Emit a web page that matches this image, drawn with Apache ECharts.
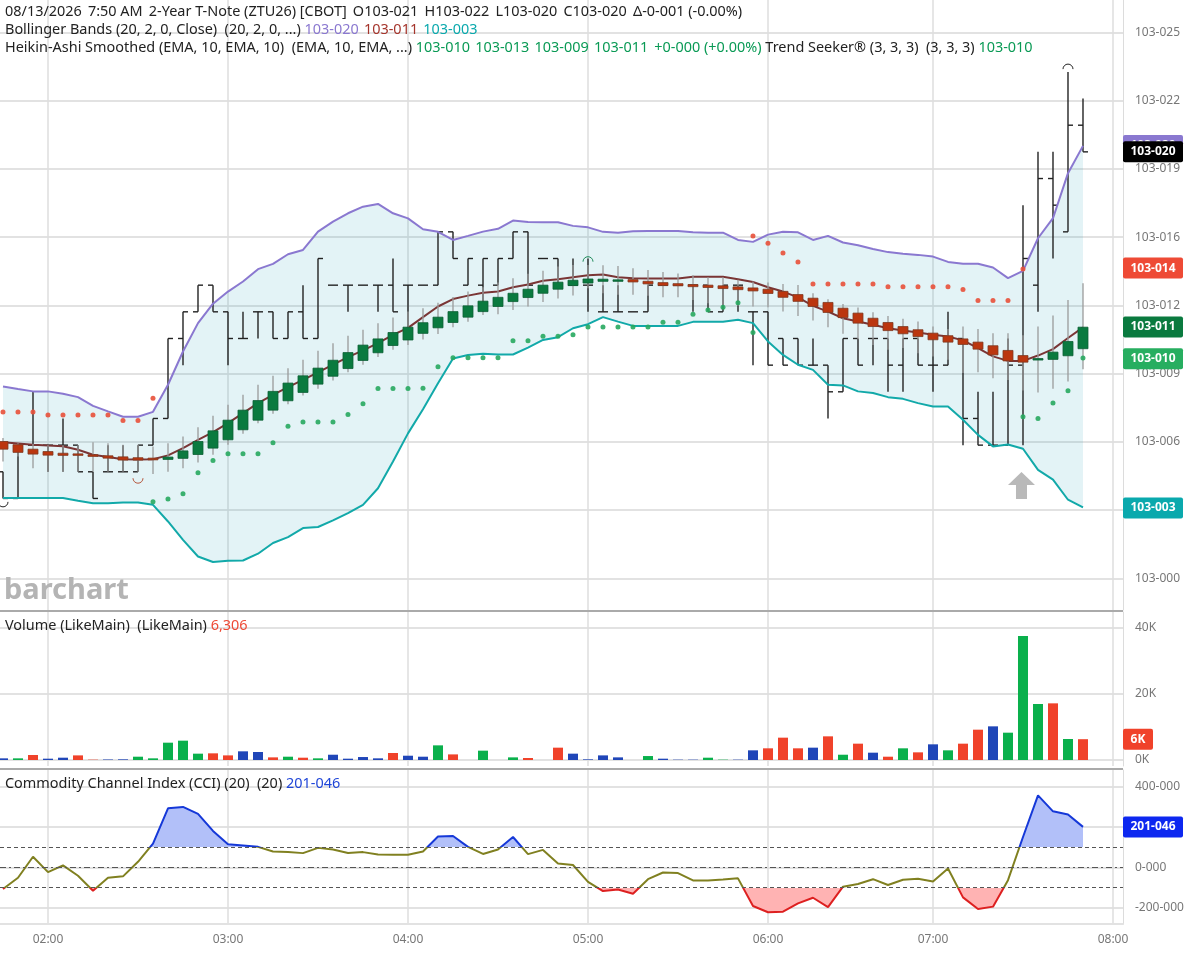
<!DOCTYPE html>
<html>
<head>
<meta charset="utf-8">
<title>ZTU26</title>
<script src="https://cdn.jsdelivr.net/npm/echarts@6/dist/echarts.min.js"></script>
<style>
    html, body { margin: 0; padding: 0; background: #fff; }
    #chart { width: 1188px; height: 953px; }
</style>
</head>
<body>
<div id="chart"></div>
<script>
// prices are in 32nds above 103 (103-020 = 20)
const timeTicks = [3, 15, 27, 39, 51, 62, 74];
const timeLabels = ['02:00', '03:00', '04:00', '05:00', '06:00', '07:00', '08:00'];

const priceTicks = [0, 3.2, 6.4, 9.6, 12.8, 16, 19.2, 22.4, 25.6];
const priceLabels = ['103-000', '103-003', '103-006', '103-009', '103-012', '103-016', '103-019', '103-022', '103-025'];
const volumeTicks = [0, 20000, 40000];
const volumeLabels = ['0K', '20K', '40K'];
const cciTicks = [-200, 0, 200, 400];
const cciLabels = ['-200-000', '0-000', '200-000', '400-000'];
const cciLevels = [100, 0, -100];

const priceOpen = [5, 3.75, 6.25, 6.25, 6.25, 6.25, 5, 5, 5, 5, 6.25, 7.5, 11.25, 12.5, 13.75, 12.5, 11.25, 12.5, 12.5, 11.25, 12.5, 11.25, 13.75, 13.75, 13.75, 13.75, 13.75, 13.75, 13.75, 13.75, 16.25, 13.75, 13.75, 13.75, 15, 16.25, 15, 15, 13.75, 13.75, 12.5, 12.5, 12.5, 12.5, 13.75, 13.75, 13.75, 13.75, 12.5, 13.75, 12.5, 12.5, 11.25, 11.25, 10, 10, 8.75, 11.25, 11.25, 11.25, 10, 11.25, 10, 10, 11.25, 7.5, 6.25, 6.25, 10, 13.75, 18.75, 16.25, 21.25];
const priceHigh = [5, 6.25, 8.75, 6.25, 7.5, 6.25, 5, 6.25, 6.25, 6.25, 7.5, 11.25, 12.5, 13.75, 13.75, 12.5, 12.5, 12.5, 12.5, 12.5, 13.75, 15, 13.75, 13.75, 13.75, 13.75, 15, 13.75, 13.75, 16.25, 16.25, 15, 15, 15, 16.25, 16.25, 15, 15, 15, 15, 13.75, 13.75, 12.5, 13.75, 13.75, 13.75, 13.75, 13.75, 13.75, 13.75, 12.5, 12.5, 11.25, 11.25, 11.25, 10, 11.25, 11.25, 11.25, 11.25, 11.25, 11.25, 11.25, 12.5, 11.25, 8.75, 8.75, 11.25, 17.5, 20, 20, 23.75, 22.5];
const priceLow = [3.75, 3.75, 6.25, 5, 5, 5, 3.75, 5, 5, 5, 6.25, 7.5, 10, 12.5, 12.5, 10, 11.25, 11.25, 11.25, 11.25, 11.25, 11.25, 13.75, 12.5, 13.75, 12.5, 12.5, 11.25, 13.75, 13.75, 15, 13.75, 12.5, 13.75, 15, 13.75, 15, 13.75, 13.75, 12.5, 12.5, 12.5, 12.5, 12.5, 13.75, 13.75, 12.5, 12.5, 12.5, 12.5, 10, 10, 10, 10, 10, 7.5, 8.75, 10, 10, 8.75, 8.75, 10, 8.75, 10, 6.25, 6.25, 6.25, 6.25, 6.25, 12.5, 15, 16.25, 20];
const priceClose = [3.75, 6.25, 6.25, 6.25, 6.25, 5, 3.75, 5, 5, 6.25, 7.5, 11.25, 12.5, 13.75, 12.5, 11.25, 11.25, 12.5, 11.25, 12.5, 11.25, 15, 13.75, 13.75, 13.75, 13.75, 12.5, 13.75, 13.75, 16.25, 15, 15, 15, 15, 16.25, 13.75, 15, 13.75, 13.75, 13.75, 12.5, 12.5, 12.5, 13.75, 13.75, 13.75, 13.75, 12.5, 13.75, 13.75, 12.5, 10, 10, 10, 10, 8.75, 11.25, 10, 11.25, 10, 11.25, 10, 10, 11.25, 7.5, 6.25, 6.25, 10, 15, 18.75, 17.5, 21.25, 20];

const haOpen = [6.42, 6.27, 6.06, 5.95, 5.87, 5.84, 5.8, 5.75, 5.7, 5.66, 5.64,
    5.58, 5.63, 5.81, 6.11, 6.5, 6.97, 7.42, 7.89, 8.33, 8.72, 9.11, 9.48, 9.84, 10.22, 10.58, 10.92,
    11.18, 11.49, 11.75, 12, 12.25, 12.51, 12.75, 12.98, 13.17, 13.37, 13.56, 13.73, 13.85, 13.93, 13.96,
    14.01, 13.93, 13.87, 13.82, 13.78, 13.75, 13.72, 13.67, 13.62, 13.56, 13.46, 13.31,
    13.14, 12.94, 12.67, 12.44, 12.2, 12, 11.81, 11.66, 11.5, 11.38, 11.23, 11.08, 10.91, 10.69, 10.45,
    10.27, 10.27, 10.44, 10.77];
const haClose = [6.06, 5.91, 5.83, 5.78, 5.77, 5.77, 5.72, 5.64, 5.55, 5.55, 5.56,
    5.69, 5.98, 6.42, 6.92, 7.42, 7.89, 8.34, 8.77, 9.16, 9.5, 9.86, 10.23, 10.59, 10.94, 11.23, 11.53,
    11.78, 11.99, 12.25, 12.51, 12.78, 13, 13.18, 13.37, 13.56, 13.75, 13.89, 13.98, 14.04, 14.03, 14,
    13.9, 13.81, 13.73, 13.72, 13.68, 13.64, 13.59, 13.54, 13.48, 13.36, 13.18, 12.99,
    12.75, 12.47, 12.23, 11.97, 11.81, 11.62, 11.47, 11.34, 11.19, 11.08, 10.97, 10.75, 10.48, 10.2, 10.14,
    10.31, 10.61, 11.11, 11.78];
const haHigh = [6.58, 6.34, 6.3, 6.25, 6.25, 6.25, 6.39, 6.34, 6.27, 6.27, 6.19,
    6.34, 6.66, 7.09, 7.63, 8.14, 8.61, 9.08, 9.5, 9.86, 10.25, 10.67, 11.03, 11.38, 11.66, 11.97, 12.23,
    12.51, 12.67, 12.93, 13.2, 13.45, 13.65, 13.87, 14.07, 14.28, 14.43, 14.62, 14.7, 14.7, 14.68, 14.65,
    14.54, 14.46, 14.37, 14.3, 14.22, 14.12, 14.12, 14, 13.92, 13.87, 13.81, 13.76,
    13.37, 13.09, 12.87, 12.7, 12.48, 12.31, 12.17, 12.05, 11.81, 11.7, 11.81, 11.69, 11.5, 11.5, 11.4,
    11.81, 12.33, 13.06, 13.84];
const haLow = [5.48, 5.72, 5.17, 5, 5, 5, 5, 5, 5, 5, 4.9,
    5, 5.17, 5.44, 5.8, 6.27, 6.78, 7.28, 7.72, 8.17, 8.58, 8.89, 9.28, 9.67, 10.02, 10.38, 10.72,
    10.95, 11.2, 11.46, 11.78, 12.03, 12.35, 12.39, 12.59, 12.75, 12.96, 13.12, 13.26, 13.6, 13.37, 13.3,
    13.3, 13.25, 13.18, 13.18, 13.06, 12.9, 12.82, 12.78, 12.75, 12.71, 12.51, 12.31,
    12.09, 11.78, 11.47, 11.22, 10.95, 10.72, 10.8, 10.56, 10.41, 10.25, 9.63, 9.67, 9.38, 9.3, 8.81,
    8.72, 8.89, 9.23, 9.81];

const bbUpper = [9, 8.88, 8.77, 8.77, 8.66, 8.5, 8.09, 7.83, 7.58, 7.58, 7.81, 9.08, 10.64, 11.97, 12.88, 13.45,
    13.92, 14.5, 14.75, 15.2, 15.4, 16.26, 16.73, 17.12, 17.43, 17.56, 17.12,
    16.88, 16.37, 16.25, 15.87, 16.06, 16.26, 16.39, 16.78, 16.71, 16.7, 16.7, 16.53, 16.46, 16.25, 16.21, 16.28, 16.29, 16.29, 16.29, 16.23, 16.21, 16.21, 15.87, 15.78, 16.12, 16.25, 16.23,
    15.87, 16.06, 15.75, 15.62, 15.45, 15.3, 15.22, 15.17, 15.09, 14.84, 14.75, 14.75, 14.58, 14.08, 14.42, 15.95, 16.89, 19, 20.28];
const bbMiddle = [6.39, 6.33, 6.27, 6.23, 6.2, 6.03, 5.8, 5.69, 5.59, 5.58, 5.59, 5.77, 6.11, 6.5, 6.86, 7.28, 7.75, 8.22, 8.61, 8.97, 9.31, 9.66, 10.02, 10.38, 10.69, 11.03, 11.42,
    11.75, 12.25, 12.75, 13.1, 13.26, 13.39, 13.45, 13.65, 13.78, 13.96, 14.03, 14.12, 14.21, 14.25, 14.12, 14.07, 14.06, 14.06, 14.06, 14.14, 14.14, 14.14, 14.03, 13.9, 13.65, 13.45, 13.18,
    12.78, 12.51, 12.2, 12.05, 11.89, 11.73, 11.62, 11.53, 11.42, 11.34, 11.16, 10.8, 10.41, 10.2, 10.2, 10.45, 10.75, 11.27, 11.77];
const bbLower = [3.77, 3.77, 3.77, 3.77, 3.77, 3.64, 3.53, 3.53, 3.56, 3.56, 3.45, 2.67, 1.81, 1.03, 0.77, 0.83, 0.84, 1.16, 1.66, 1.94, 2.36, 2.41, 2.72, 3.06, 3.45, 4.23, 5.48,
    6.8, 7.93, 9.15, 10.31, 10.48, 10.53, 10.5, 10.5, 10.82, 11.18, 11.31, 11.73, 11.92, 12.25, 12.04, 11.84, 11.84, 11.84, 11.84, 12.03, 12.03, 12.03, 12.13, 11.97, 11.11, 10.48, 10.02,
    9.78, 9.08, 9.05, 8.77, 8.69, 8.5, 8.42, 8.22, 8.06, 8.06, 7.44, 6.73, 6.19, 6.28, 6.08, 5.09, 4.63, 3.69, 3.33];

const trendDown = [7.8, 7.8, 7.8, 7.66, 7.66, 7.66, 7.66, 7.66, 7.41, 7.41, 8.45,
    ...Array(39).fill(null),
    16.06, 15.72, 15.26, 14.84, 13.8, 13.8, 13.8, 13.8, 13.8, 13.67, 13.67, 13.67, 13.67, 13.67, 13.55, 13.03, 13.03, 13.03, 14.51,
    null, null, null, null];
const trendUp = [...Array(10).fill(null),
    3.59, 3.73, 3.97, 4.95, 5.53, 5.84, 5.84, 5.84, 6.36, 7.13, 7.34, 7.34, 7.34, 7.69, 8.19, 8.91, 8.91,
    8.9, 8.92, 9.92, 10.35, 10.35, 10.35, 10.35, 11.14, 11.14, 11.35, 11.35, 11.43, 11.79, 11.79, 11.79, 11.79, 11.79, 12.01, 12.01, 12.39, 12.59, 12.71, 12.93,
    11.53,
    ...Array(17).fill(null),
    7.58, 7.5, 8.23, 8.8, 10.33];

// index, price, 1 = high pivot / -1 = low pivot
const pivotMarks = [[0, 3.59, -1], [9, 4.7, -1], [39, 14.85, 1], [71, 23.88, 1]];
const pivotColors = ['#222', '#b5563c', '#1f8a5a', '#222'];
const arrowMark = [[68, 4.36]];

const volume = [505, 505, 1515, 400, 700, 1400, 100, 150, 200, 1000, 505, 5250, 5860, 1920, 2020, 1400, 2630, 2420, 800, 1000, 700, 505, 1600, 400, 900, 505, 2120, 1300, 1000, 4440, 1700, 0, 2830, 0, 800, 600, 0, 3740, 1920, 200, 1400, 800, 0, 1200, 400, 100, 100, 700, 100, 100, 2930, 3540, 6770, 3540, 3740, 7170, 1600, 4950, 2220, 1000, 3540, 2320, 4750, 2930, 4950, 9190, 10200, 8280, 37570, 16970, 17170, 6360, 6306];
const volumeTrend = ['b', 'g', 'r', 'b', 'b', 'r', 'r', 'b', 'b', 'g', 'g', 'g', 'g', 'g', 'r', 'r', 'b', 'b', 'r', 'g', 'r', 'g', 'b', 'b', 'b', 'b', 'r', 'b', 'b', 'g', 'r', 'b', 'g', 'b', 'g', 'r', 'b', 'r', 'b', 'b', 'b', 'b', 'b', 'g', 'b', 'b', 'b', 'g', 'g', 'b', 'b', 'r', 'r', 'r', 'b', 'r', 'g', 'r', 'b', 'r', 'g', 'r', 'b', 'g', 'r', 'r', 'b', 'g', 'g', 'g', 'r', 'g', 'r'];

const cci = [-107, -51, 53, -23, 10, -41, -115, -51, -44, 28, 118, 293, 300, 265, 181, 115, 109, 102, 79, 77, 71, 97, 89, 72, 76, 64, 63, 63, 79, 153, 156, 102, 67, 89, 151, 66, 87, 20, 12, -71, -117, -109, -130, -58, -25, -28, -64, -64, -60, -54, -191, -222, -219, -178, -150, -196, -95, -82, -58, -87, -61, -56, -69, -5, -148, -206, -194, -63, 151, 357, 278, 262, 201];

const priceTags = [
    [20.3, '103-020', '#8a78d0'],
    [14.55, '103-014', '#ee4a35'],
    [11.79, '103-011', '#0a7a3f'],
    [10.3, '103-010', '#27ae60'],
    [3.3, '103-003', '#0aa9ad'],
    [20, '103-020', '#000'],
];
const volumeTags = [[6306, '6K', '#f0422a', 30]];
const cciTags = [[201, '201-046', '#0d28f0']];

const C_TEXT = '#222';
const C_AXIS = '#777';
const C_GRID = '#e2e2e2';
const FONT = '"Noto Sans", sans-serif';
const VOL_COLOR = { g: '#0ab04c', r: '#f0422a', b: '#2046b8' };
const CLEAR = 'rgba(255,255,255,0)';

const bars = priceOpen.map((_, i) => i);
const asPoints = arr => bars.filter(i => arr[i] != null).map(i => [i, arr[i]]);

function priceBar(params, api) {
    const i = api.value(0);
    const left = api.coord([i, api.value(1)]);
    const right = api.coord([i, api.value(4)]);
    const hi = api.coord([i, api.value(2)]);
    const lo = api.coord([i, api.value(3)]);
    const style = { stroke: '#222', lineWidth: 1.4 };
    return {
        type: 'group',
        children: [
            { type: 'line', shape: { x1: hi[0], y1: hi[1], x2: lo[0], y2: lo[1] }, style },
            { type: 'line', shape: { x1: left[0] - 5, y1: left[1], x2: left[0], y2: left[1] }, style },
            { type: 'line', shape: { x1: right[0], y1: right[1], x2: right[0] + 5, y2: right[1] }, style },
        ],
    };
}

function haWick(params, api) {
    const hi = api.coord([api.value(0), api.value(1)]);
    const lo = api.coord([api.value(0), api.value(2)]);
    return { type: 'line', shape: { x1: hi[0], y1: hi[1], x2: lo[0], y2: lo[1] }, style: { stroke: '#9a9a9a', lineWidth: 1.3 } };
}

function haBody(params, api) {
    const o = api.value(1);
    const c = api.value(2);
    const top = api.coord([api.value(0), Math.max(o, c)]);
    const bot = api.coord([api.value(0), Math.min(o, c)]);
    const up = c >= o;
    return {
        type: 'rect',
        shape: { x: top[0] - 5, y: top[1], width: 10, height: Math.max(bot[1] - top[1], 1.5) },
        style: { fill: up ? '#0a7a3f' : '#bb360f', stroke: up ? '#0d5f35' : '#7f3a22', lineWidth: 0.8 },
    };
}

function pivotArc(params, api) {
    const p = api.coord([api.value(0), api.value(1)]);
    const high = api.value(2) > 0;
    return {
        type: 'arc',
        shape: { cx: p[0], cy: p[1], r: 5, startAngle: high ? Math.PI : 0, endAngle: high ? Math.PI * 2 : Math.PI },
        style: { fill: 'none', stroke: pivotColors[params.dataIndex], lineWidth: 1 },
    };
}

// Bollinger band fill, one polygon through the upper line and back along the lower
function bandFill(params, api) {
    const points = bars.map(i => api.coord([i, bbUpper[i]]))
        .concat(bars.slice().reverse().map(i => api.coord([i, bbLower[i]])));
    return { type: 'polygon', shape: { points }, style: { fill: 'rgba(0,150,175,0.11)' } };
}

function tagSeries(axis, rows) {
    return {
        type: 'custom', xAxisIndex: axis, yAxisIndex: axis, z: 20, silent: true,
        data: rows.map(r => [0, r[0]]), encode: { x: 0, y: 1 },
        // value tag in the right margin, placed from the axis scale
        renderItem(params, api) {
            const row = rows[params.dataIndex];
            const y = api.coord([0, api.value(1)])[1];
            const x = params.coordSys.x + params.coordSys.width;
            const w = row[3] || 60;
            return {
                type: 'group',
                children: [
                    { type: 'rect', shape: { x, y: y - 10.5, width: w, height: 21, r: 2 }, style: { fill: row[2] } },
                    { type: 'text', style: { x: x + w / 2, y, text: row[1], fill: '#fff', font: 'bold 12px ' + FONT, align: 'center', verticalAlign: 'middle' } },
                ],
            };
        },
    };
}

function lineSeries(name, arr, color, z) {
    return { name, type: 'line', data: asPoints(arr), showSymbol: false, z, lineStyle: { color, width: 2 }, itemStyle: { color } };
}

function trendDots(name, arr, color) {
    return {
        name, type: 'scatter', data: asPoints(arr), symbolSize: 5, z: 8,
        itemStyle: { color, opacity: 0.9 },
    };
}

function xAxis(gridIndex, last) {
    return {
        type: 'value', gridIndex, min: -0.2, max: 74.667, position: 'bottom',
        axisLine: { show: last, onZero: false, lineStyle: { color: C_GRID, width: 2 } },
        axisTick: { show: false, customValues: timeTicks },
        axisLabel: last ? {
            show: true, customValues: timeTicks, color: C_AXIS, fontSize: 12, fontFamily: FONT, margin: 10,
            formatter: v => timeLabels[timeTicks.indexOf(v)],
        } : { show: false },
        splitLine: { show: true, lineStyle: { color: '#dedede', width: 1.5 } },
    };
}

function yAxis(gridIndex, min, max, ticks, labels) {
    return {
        type: 'value', gridIndex, min, max, position: 'right',
        axisLine: { show: true, onZero: false, lineStyle: { color: '#dcdcdc', width: 1 } },
        axisTick: { show: false, customValues: ticks },
        axisLabel: {
            customValues: ticks, color: C_AXIS, fontSize: 12, fontFamily: FONT, margin: 12,
            formatter: v => labels[ticks.indexOf(v)],
        },
        splitLine: { show: true, lineStyle: { color: C_GRID, width: 2 } },
    };
}

const headerRich = {
    t: { fill: C_TEXT },
    bbU: { fill: '#8a78d0' }, bbM: { fill: '#a5352c' }, bbL: { fill: '#0aa9ad' },
    g: { fill: '#0a9a55' }, r: { fill: '#ee4a35' }, b: { fill: '#2046d8' },
};

function headerLine(x, y, text) {
    return {
        type: 'text', x, y, z: 30,
        style: { text, font: '14.45px ' + FONT, fill: C_TEXT, verticalAlign: 'middle', rich: headerRich },
    };
}

const chart = echarts.init(document.getElementById('chart'));
chart.setOption({
    animation: false,
    backgroundColor: '#fff',
    textStyle: { fontFamily: FONT },
    grid: [
        { left: 0, width: 1123, top: 0, height: 610 },
        { left: 0, width: 1123, top: 612, height: 154 },
        { left: 0, width: 1123, top: 770, height: 154 },
    ],
    xAxis: [xAxis(0, false), xAxis(1, false), xAxis(2, true)],
    yAxis: [
        yAxis(0, -1.48, 27.12, priceTicks, priceLabels),
        yAxis(1, -1818, 44850, volumeTicks, volumeLabels),
        yAxis(2, -280, 482.7, cciTicks, cciLabels),
    ],
    // the first three series are the CCI ones, see seriesIndex below
    visualMap: [
        { show: false, type: 'piecewise', seriesIndex: 0, dimension: 1, pieces: [{ lte: 100, color: CLEAR }, { gt: 100, lte: 1000, color: '#b2c0f9' }, { gt: 1000, color: '#b2c0f9' }] },
        { show: false, type: 'piecewise', seriesIndex: 1, dimension: 1, pieces: [{ lt: -1000, color: '#ffb3b3' }, { gte: -1000, lt: -100, color: '#ffb3b3' }, { gte: -100, color: CLEAR }] },
        { show: false, type: 'piecewise', seriesIndex: 2, dimension: 1, pieces: [{ lt: -100, color: '#dd2020' }, { gte: -100, lte: 100, color: '#808020' }, { gt: 100, color: '#1538d8' }] },
    ],
    series: [
        {
            name: 'CCI above', type: 'line', xAxisIndex: 2, yAxisIndex: 2, data: asPoints(cci), showSymbol: false, z: 2,
            lineStyle: { width: 0 }, areaStyle: { origin: 100, opacity: 1 },
        },
        {
            name: 'CCI below', type: 'line', xAxisIndex: 2, yAxisIndex: 2, data: asPoints(cci), showSymbol: false, z: 2,
            lineStyle: { width: 0 }, areaStyle: { origin: -100, opacity: 1 },
        },
        {
            name: 'CCI', type: 'line', xAxisIndex: 2, yAxisIndex: 2, data: asPoints(cci), showSymbol: false, z: 4,
            lineStyle: { width: 2 },
            markLine: {
                silent: true, symbol: 'none', label: { show: false }, animation: false,
                data: cciLevels.map(v => ({
                    yAxis: v,
                    lineStyle: { color: '#555', width: 1, type: v === 0 ? [6, 3, 2, 3] : [4, 3] },
                })),
            },
        },
        { name: 'band', type: 'custom', z: 1, silent: true, clip: true, renderItem: bandFill, data: [[0, 0]], encode: { x: 0, y: 1 } },
        {
            name: 'OHLC', type: 'custom', z: 3, renderItem: priceBar, encode: { x: 0, y: [1, 2, 3, 4] },
            data: bars.map(i => [i, priceOpen[i], priceHigh[i], priceLow[i], priceClose[i]]),
        },
        lineSeries('BB upper', bbUpper, '#8a78d0', 4),
        lineSeries('BB lower', bbLower, '#12a9a9', 4),
        lineSeries('BB middle', bbMiddle, '#7a3535', 5),
        {
            name: 'HA wick', type: 'custom', z: 6, renderItem: haWick, encode: { x: 0, y: [1, 2] },
            data: bars.map(i => [i, haHigh[i], haLow[i]]),
        },
        {
            name: 'HA body', type: 'custom', z: 7, renderItem: haBody, encode: { x: 0, y: [1, 2] },
            data: bars.map(i => [i, haOpen[i], haClose[i]]),
        },
        trendDots('Trend down', trendDown, '#e8503a'),
        trendDots('Trend up', trendUp, '#27a85f'),
        { name: 'pivots', type: 'custom', z: 9, renderItem: pivotArc, encode: { x: 0, y: 1 }, data: pivotMarks },
        {
            name: 'arrow', type: 'scatter', z: 9, data: arrowMark, symbolSize: 27, symbolOffset: [-1.5, 0],
            symbol: 'path://M13.5 0 L27 13 L19 13 L19 27 L8 27 L8 13 L0 13 Z', itemStyle: { color: '#a8a8a8' },
        },
        {
            name: 'Volume', type: 'bar', xAxisIndex: 1, yAxisIndex: 1, barWidth: 10, z: 3,
            data: bars.map(i => ({ value: [i, volume[i]], itemStyle: { color: VOL_COLOR[volumeTrend[i]] } })),
        },
        tagSeries(0, priceTags),
        tagSeries(1, volumeTags),
        tagSeries(2, cciTags),
    ],
    graphic: [
        headerLine(5, 12, '08/13/2026 \u20097:50 AM \u20092-Year T-Note (ZTU26) [CBOT] \u2009O103-021 \u2009H103-022 \u2009L103-020 \u2009C103-020 \u2009Δ-0-001 (-0.00%)'),
        headerLine(5, 30, '{t|Bollinger Bands (20, 2, 0, Close)  (20, 2, 0, ...)} {bbU|103-020} \u200a{bbM|103-011} \u200a{bbL|103-003}'),
        headerLine(5, 48, '{t|Heikin-Ashi Smoothed (EMA, 10, EMA, 10)  (EMA, 10, EMA, ...)} {g|103-010 \u200a103-013 \u200a103-009 \u200a103-011 \u2009+0-000 (+0.00%)} {t|Trend Seeker® (3, 3, 3)  (3, 3, 3)} {g|103-010}'),
        headerLine(5, 626, '{t|Volume (LikeMain)  (LikeMain)} {r|6,306}'),
        headerLine(5, 784, '{t|Commodity Channel Index (CCI) (20)  (20)} {b|201-046}'),
        { type: 'text', x: 4, y: 591, z: 30, style: { text: 'barchart', font: 'bold 29px ' + FONT, fill: '#b4b4b4', verticalAlign: 'middle' } },
        { type: 'rect', shape: { x: 0, y: 610, width: 1123, height: 2 }, z: 30, style: { fill: '#aaa' } },
        { type: 'rect', shape: { x: 0, y: 768, width: 1123, height: 2 }, z: 30, style: { fill: '#aaa' } },
    ],
});
</script>
</body>
</html>
